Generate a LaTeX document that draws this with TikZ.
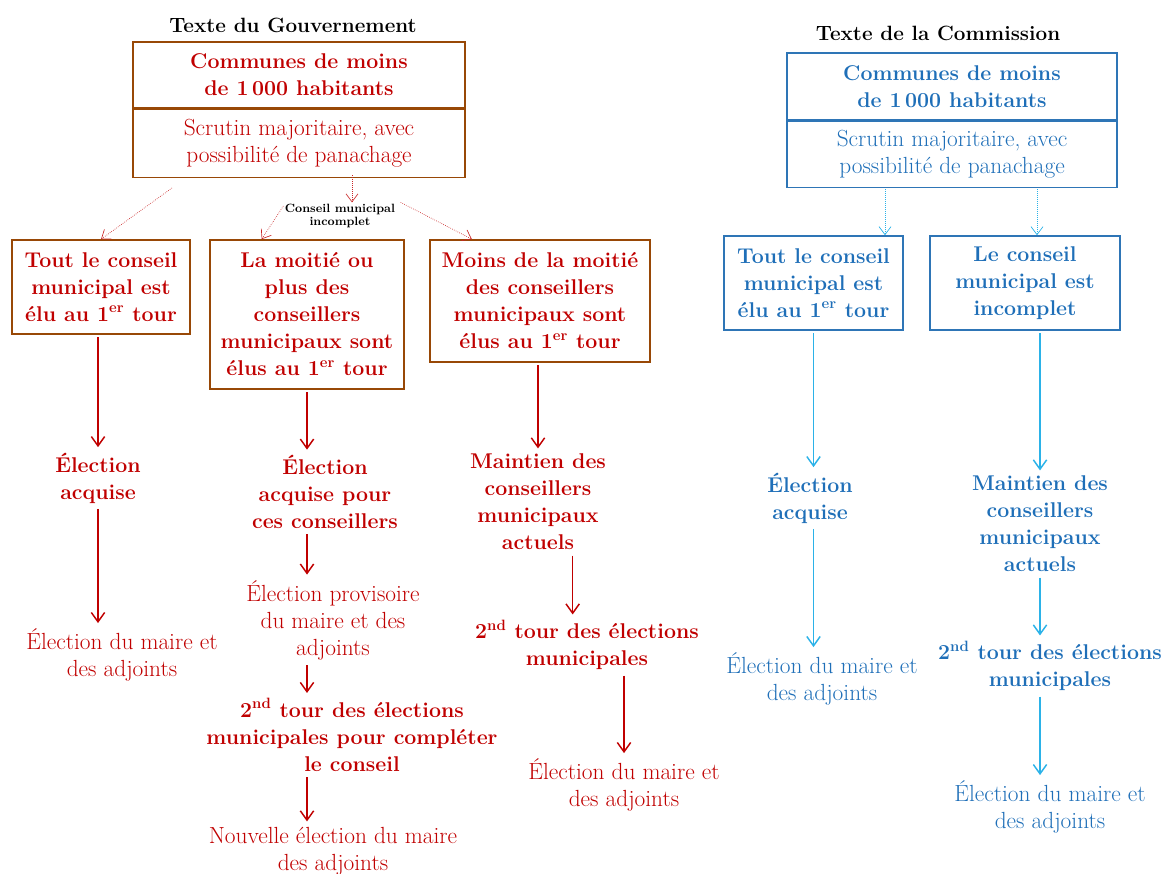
\documentclass[tikz,border=0pt]{standalone}
\usepackage{fontspec}
\usetikzlibrary{arrows.meta}

\definecolor{rouge}{HTML}{C00000}
\definecolor{brun}{HTML}{984806}
\definecolor{bleu}{HTML}{1F6FB8}
\definecolor{bleucadre}{HTML}{2E75B6}
\definecolor{bleuclair}{HTML}{2BB2E8}

\newcommand{\grasTxt}{\fontsize{16}{20.25}\selectfont\bfseries}
\newcommand{\normTxt}{\fontsize{17.5}{20.25}\selectfont}

\tikzset{
    titre/.style={font=\fontsize{15.5}{18}\selectfont\bfseries, text=black},
    cadreG/.style={draw=brun, line width=1.2pt, text=rouge, font=\grasTxt, align=center, inner sep=2pt},
    cadreC/.style={draw=bleucadre, line width=1.2pt, text=bleu, font=\grasTxt, align=center, inner sep=2pt},
    texteG/.style={text=rouge, font=\grasTxt, align=center, inner sep=2pt},
    texteC/.style={text=bleu, font=\grasTxt, align=center, inner sep=2pt},
    flecheG/.style={draw=rouge, line width=1.1pt, shorten <=2pt, shorten >=2pt, -{Straight Barb[length=7pt,width=10pt]}},
    flecheC/.style={draw=bleuclair, line width=1.1pt, shorten <=2pt, shorten >=2pt, -{Straight Barb[length=7pt,width=10pt]}},
    pointG/.style={draw=rouge!85, line width=0.5pt, densely dotted, -{Straight Barb[length=6pt,width=9pt]}},
    pointC/.style={draw=bleuclair, line width=0.5pt, densely dotted, -{Straight Barb[length=6pt,width=9pt]}}
}

\begin{document}
\begin{tikzpicture}[x=0.75pt, y=-0.75pt]
    \useasboundingbox (0,0) rectangle (1163,874);

    % Texte du Gouvernement
    \node[titre] (gtitre) at (293,25) {Texte du Gouvernement};
    \node[cadreG, minimum width=249pt, minimum height=49.5pt] (gtop) at (299,75) {Communes de moins\\de 1\,000 habitants};
    \node[cadreG, font=\normTxt, minimum width=249pt, minimum height=51pt, anchor=north] (gbot) at (gtop.south) {Scrutin majoritaire, avec\\possibilité de panachage};
    \node[font=\fontsize{9}{10}\selectfont\bfseries, align=center, inner sep=1pt] (gincomplet) at (340,216) {Conseil municipal\\incomplet};

    \node[cadreG, minimum width=133.5pt, minimum height=70.5pt] (gtout) at (101,287) {Tout le conseil\\municipal est\\élu au 1\textsuperscript{er} tour};
    \node[cadreG, minimum width=145.5pt, minimum height=111.75pt] (gmoitie) at (307,314.5) {La moitié ou\\plus des\\conseillers\\municipaux sont\\élus au 1\textsuperscript{er} tour};
    \node[cadreG, minimum width=165pt, minimum height=91.5pt] (gmoins) at (540,301) {Moins de la moitié\\des conseillers\\municipaux sont\\élus au 1\textsuperscript{er} tour};

    \node[texteG] (gacquise) at (98,478) {Élection\\acquise};
    \node[texteG, font=\normTxt] (gmaire1) at (122,655) {Élection du maire et\\des adjoints};
    \node[texteG] (gacquisepour) at (325,492) {Élection\\acquise pour\\ces conseillers};
    \node[texteG, font=\normTxt] (gprovisoire) at (333,620) {Élection provisoire\\du maire et des\\adjoints};
    \node[texteG] (gsecondA) at (352,735) {2\textsuperscript{nd} tour des élections\\municipales pour compléter\\le conseil};
    \node[texteG, font=\normTxt] (gnouvelle) at (333,851) {Nouvelle élection du maire\\des adjoints};
    \node[texteG] (gmaintien) at (538,502) {Maintien des\\conseillers\\municipaux\\actuels};
    \node[texteG] (gsecondB) at (587,645) {2\textsuperscript{nd} tour des élections\\municipales};
    \node[texteG, font=\normTxt] (gmaire2) at (624,785) {Élection du maire et\\des adjoints};

    % fleches pointillees
    \coordinate (gdepG) at (172,188);
    \coordinate (gdepM) at (352,175);
    \draw[pointG] (gdepG) -- (gtout.north);
    \draw[pointG] (gdepM) -- (gdepM |- gincomplet.north);
    \draw[pointG] (gincomplet.170) -- ([xshift=-34pt]gmoitie.north);
    \draw[pointG] ([xshift=3pt]gincomplet.north east) -- ([xshift=32pt]gmoins.north west);

    % fleches pleines
    \draw[flecheG] (gtout.south -| gacquise) -- (gacquise.north);
    \draw[flecheG] (gacquise.south) -- (gacquise.south |- gmaire1.north);
    \draw[flecheG] (gmoitie.south) -- (gmoitie.south |- gacquisepour.north);
    \draw[flecheG] (gacquisepour.south -| gmoitie) -- (gprovisoire.north -| gmoitie);
    \draw[flecheG] (gprovisoire.south -| gmoitie) -- (gsecondA.north -| gmoitie);
    \draw[flecheG] (gsecondA.south -| gmoitie) -- (gnouvelle.north -| gmoitie);
    \draw[flecheG] (gmoins.south -| gmaintien) -- (gmaintien.north);
    \draw[flecheG] ([xshift=26pt]gmaintien.south) -- ([xshift=26pt]gmaintien.south |- gsecondB.north);
    \draw[flecheG] (gsecondB.south -| gmaire2) -- (gmaire2.north);

    % Texte de la Commission
    \node[titre] (ctitre) at (938,33) {Texte de la Commission};
    \node[cadreC, minimum width=247.5pt, minimum height=50.25pt] (ctop) at (952,86.5) {Communes de moins\\de 1\,000 habitants};
    \node[cadreC, font=\normTxt, minimum width=247.5pt, minimum height=49.5pt, anchor=north] (cbot) at (ctop.south) {Scrutin majoritaire, avec\\possibilité de panachage};

    \node[cadreC, minimum width=134.25pt, minimum height=70.5pt] (ctout) at (813.5,283) {Tout le conseil\\municipal est\\élu au 1\textsuperscript{er} tour};
    \node[cadreC, minimum width=142.5pt, minimum height=70.5pt] (cincomplet) at (1025,283) {Le conseil\\municipal est\\incomplet};

    \node[texteC] (cacquise) at (810,498) {Élection\\acquise};
    \node[texteC, font=\normTxt] (cmaire1) at (822,679) {Élection du maire et\\des adjoints};
    \node[texteC] (cmaintien) at (1040,524) {Maintien des\\conseillers\\municipaux\\actuels};
    \node[texteC] (csecond) at (1050,666) {2\textsuperscript{nd} tour des élections\\municipales};
    \node[texteC, font=\normTxt] (cmaire2) at (1050,807) {Élection du maire et\\des adjoints};

    \coordinate (cdepG) at (885,189);
    \coordinate (cdepD) at (1037,189);
    \draw[pointC] (cdepG) -- (cdepG |- ctout.north);
    \draw[pointC] (cdepD) -- (cdepD |- cincomplet.north);

    \draw[flecheC] (ctout.south) -- (ctout.south |- cacquise.north);
    \draw[flecheC] (cacquise.south -| ctout) -- (cmaire1.north -| ctout);
    \draw[flecheC] (cincomplet.south -| cmaintien) -- (cmaintien.north);
    \draw[flecheC] (cmaintien.south) -- (cmaintien.south |- csecond.north);
    \draw[flecheC] (csecond.south -| cmaintien) -- (cmaire2.north -| cmaintien);
\end{tikzpicture}
\end{document}
